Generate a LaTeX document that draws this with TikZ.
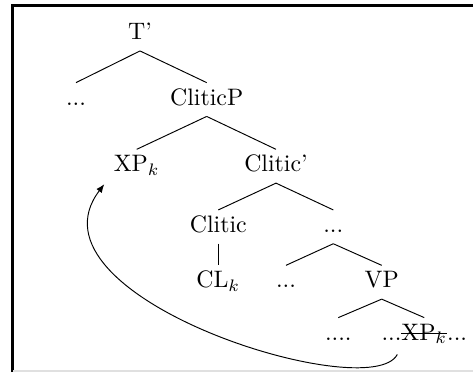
\documentclass[tikz,border=0pt]{standalone}
\usetikzlibrary{calc,arrows.meta}
\newsavebox\mystkbox
\newcommand\mystk[1]{\sbox\mystkbox{#1}\rlap{\rule[2.6pt]{\wd\mystkbox}{0.4pt}}\usebox\mystkbox}
\begin{document}
\begin{tikzpicture}[x=0.42pt,y=-0.42pt,
  tn/.style={inner xsep=0pt, inner ysep=2.2pt, text height=7pt, text depth=2.4pt, anchor=base},
  br/.style={line width=0.4pt, draw=black},
  mv/.style={-{Latex[length=3.6pt,width=2.8pt]}, line width=0.4pt}
]
\useasboundingbox (0,0) rectangle (473,372);
\draw[line width=0.9pt] (12.5,372) -- (12.5,5.5) -- (473,5.5);
\draw[black!12, line width=0.6pt] (13.5,371) -- (473,371);

\node[tn] (T) at (140,39.5) {T'};
\node[tn] (d1) at (76,105) {...};
\node[tn] (CP) at (206.7,105) {CliticP};
\node[tn] (XP1) at (136.7,171.7) {XP$_k$};
\node[tn] (Cb) at (276,171.7) {Clitic'};
\node[tn] (C) at (218.3,232.3) {Clitic};
\node[tn] (d2) at (333.3,232.3) {...};
\node[tn] (CL) at (218.3,287.7) {CL$_k$};
\node[tn] (d3) at (286,287.7) {...};
\node[tn] (VP) at (381.7,287.7) {VP};
\node[tn] (d4) at (338.3,340) {....};
\node[tn] (XP2) at (424.3,340) {...\mystk{XP$_k$}...};

\draw[br] (T.south) -- (d1.north);
\draw[br] (T.south) -- (CP.north);
\draw[br] (CP.south) -- (XP1.north);
\draw[br] (CP.south) -- (Cb.north);
\draw[br] (Cb.south) -- (C.north);
\draw[br] (Cb.south) -- (d2.north);
\draw[br] (C.south) -- (CL.north);
\draw[br] (d2.south) -- (d3.north);
\draw[br] (d2.south) -- (VP.north);
\draw[br] (VP.south) -- (d4.north);
\draw[br] (VP.south) -- (XP2.north);

\draw[mv] ($(XP2.south)+(-27,3)$) .. controls +(-27,52) and +(-86,113) .. ($(XP1.south west)+(-9,1)$);
\end{tikzpicture}
\end{document}
